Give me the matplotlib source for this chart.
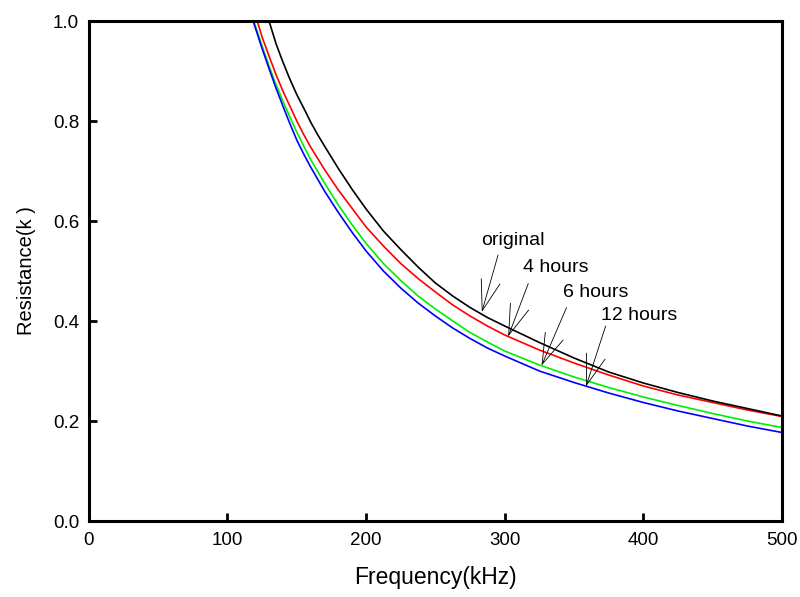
import numpy as np
import matplotlib
matplotlib.use("Agg")
import matplotlib.pyplot as plt

plt.rcParams['font.family'] = ['Liberation Sans', 'DejaVu Sans']

# frequency (kHz) and resistance (k-ohm)
f_orig = np.array([130, 135, 140, 145, 150, 155, 160, 165, 170, 180, 190, 200, 212.5,
                   225, 237.5, 250, 262.5, 275, 287.5, 300, 325, 350, 375, 400, 425,
                   450, 475, 500])
r_orig = np.array([1.0, 0.955, 0.918, 0.884, 0.853, 0.826, 0.798, 0.773, 0.75, 0.705,
                   0.663, 0.624, 0.58, 0.543, 0.508, 0.476, 0.45, 0.427, 0.407, 0.39,
                   0.357, 0.326, 0.298, 0.276, 0.257, 0.24, 0.225, 0.21])

f_4h = np.array([121.5, 125, 130, 135, 140, 145, 150, 155, 160, 170, 180, 190, 200,
                 212.5, 225, 237.5, 250, 262.5, 275, 287.5, 300, 325, 350, 375, 400,
                 425, 450, 475, 500])
r_4h = np.array([1.0, 0.968, 0.93, 0.893, 0.86, 0.83, 0.8, 0.773, 0.748, 0.703, 0.662,
                 0.625, 0.588, 0.55, 0.515, 0.485, 0.458, 0.432, 0.41, 0.39, 0.372,
                 0.342, 0.316, 0.292, 0.27, 0.252, 0.237, 0.222, 0.209])

f_6h = np.array([119, 125, 130, 135, 140, 145, 150, 155, 160, 170, 180, 190, 200,
                 212.5, 225, 237.5, 250, 262.5, 275, 287.5, 300, 325, 350, 375, 400,
                 425, 450, 475, 500])
r_6h = np.array([1.0, 0.95, 0.91, 0.873, 0.84, 0.808, 0.778, 0.75, 0.723, 0.676, 0.632,
                 0.592, 0.555, 0.515, 0.481, 0.45, 0.424, 0.4, 0.377, 0.358, 0.34,
                 0.312, 0.288, 0.267, 0.248, 0.231, 0.215, 0.2, 0.187])

f_12h = np.array([118.5, 125, 130, 135, 140, 145, 150, 155, 160, 170, 180, 190, 200,
                  212.5, 225, 237.5, 250, 262.5, 275, 287.5, 300, 325, 350, 375, 400,
                  425, 450, 475, 500])
r_12h = np.array([1.0, 0.945, 0.905, 0.866, 0.83, 0.795, 0.762, 0.734, 0.708, 0.66,
                  0.617, 0.577, 0.54, 0.5, 0.466, 0.436, 0.41, 0.386, 0.365, 0.346,
                  0.33, 0.3, 0.277, 0.256, 0.237, 0.22, 0.205, 0.19, 0.177])

labels = ["original", "4 hours", "6 hours", "12 hours"]
# arrow tip (on curve), arrow tail and text position
tips = [(283.5, 0.418), (302.5, 0.369), (326.6, 0.311), (358.6, 0.269)]
tails = [(295.2, 0.532), (317.0, 0.475), (344.6, 0.427), (372.8, 0.39)]
text_pos = [(282.8, 0.562), (313.0, 0.508), (342.0, 0.458), (369.4, 0.412)]

fig = plt.figure(figsize=(8, 5.97), dpi=100)
ax = fig.add_axes([0.111, 0.1273, 0.8665, 0.8375])

ax.plot(f_6h, r_6h, color='#00ee00', lw=1.2)
ax.plot(f_12h, r_12h, color='#0000ff', lw=1.2)
ax.plot(f_4h, r_4h, color='#ff0000', lw=1.2)
ax.plot(f_orig, r_orig, color='black', lw=1.2)

for lab, tip, tail, tp in zip(labels, tips, tails, text_pos):
    ax.annotate("", xy=tip, xytext=tail,
                arrowprops=dict(arrowstyle="->,head_length=2.2,head_width=0.7",
                                color='black', lw=0.6, mutation_scale=10,
                                shrinkA=0, shrinkB=0))
    ax.text(tp[0], tp[1], lab, fontsize=14, ha='left', va='center')

ax.set_xlim(0, 500)
ax.set_ylim(0, 1.0)
ax.set_xticks([0, 100, 200, 300, 400, 500])
ax.set_yticks([0.0, 0.2, 0.4, 0.6, 0.8, 1.0])
ax.set_yticklabels(["0.0", "0.2", "0.4", "0.6", "0.8", "1.0"])

for s in ax.spines.values():
    s.set_linewidth(2.2)
ax.tick_params(direction='in', length=6, width=2, labelsize=13.5)
ax.tick_params(axis='y', pad=7)
ax.tick_params(axis='x', pad=8)

ax.set_xlabel("Frequency(kHz)", fontsize=16.5, labelpad=12)
ax.set_ylabel("Resistance(k )", fontsize=14.5, labelpad=12)

fig.savefig("out.png", dpi=100)
